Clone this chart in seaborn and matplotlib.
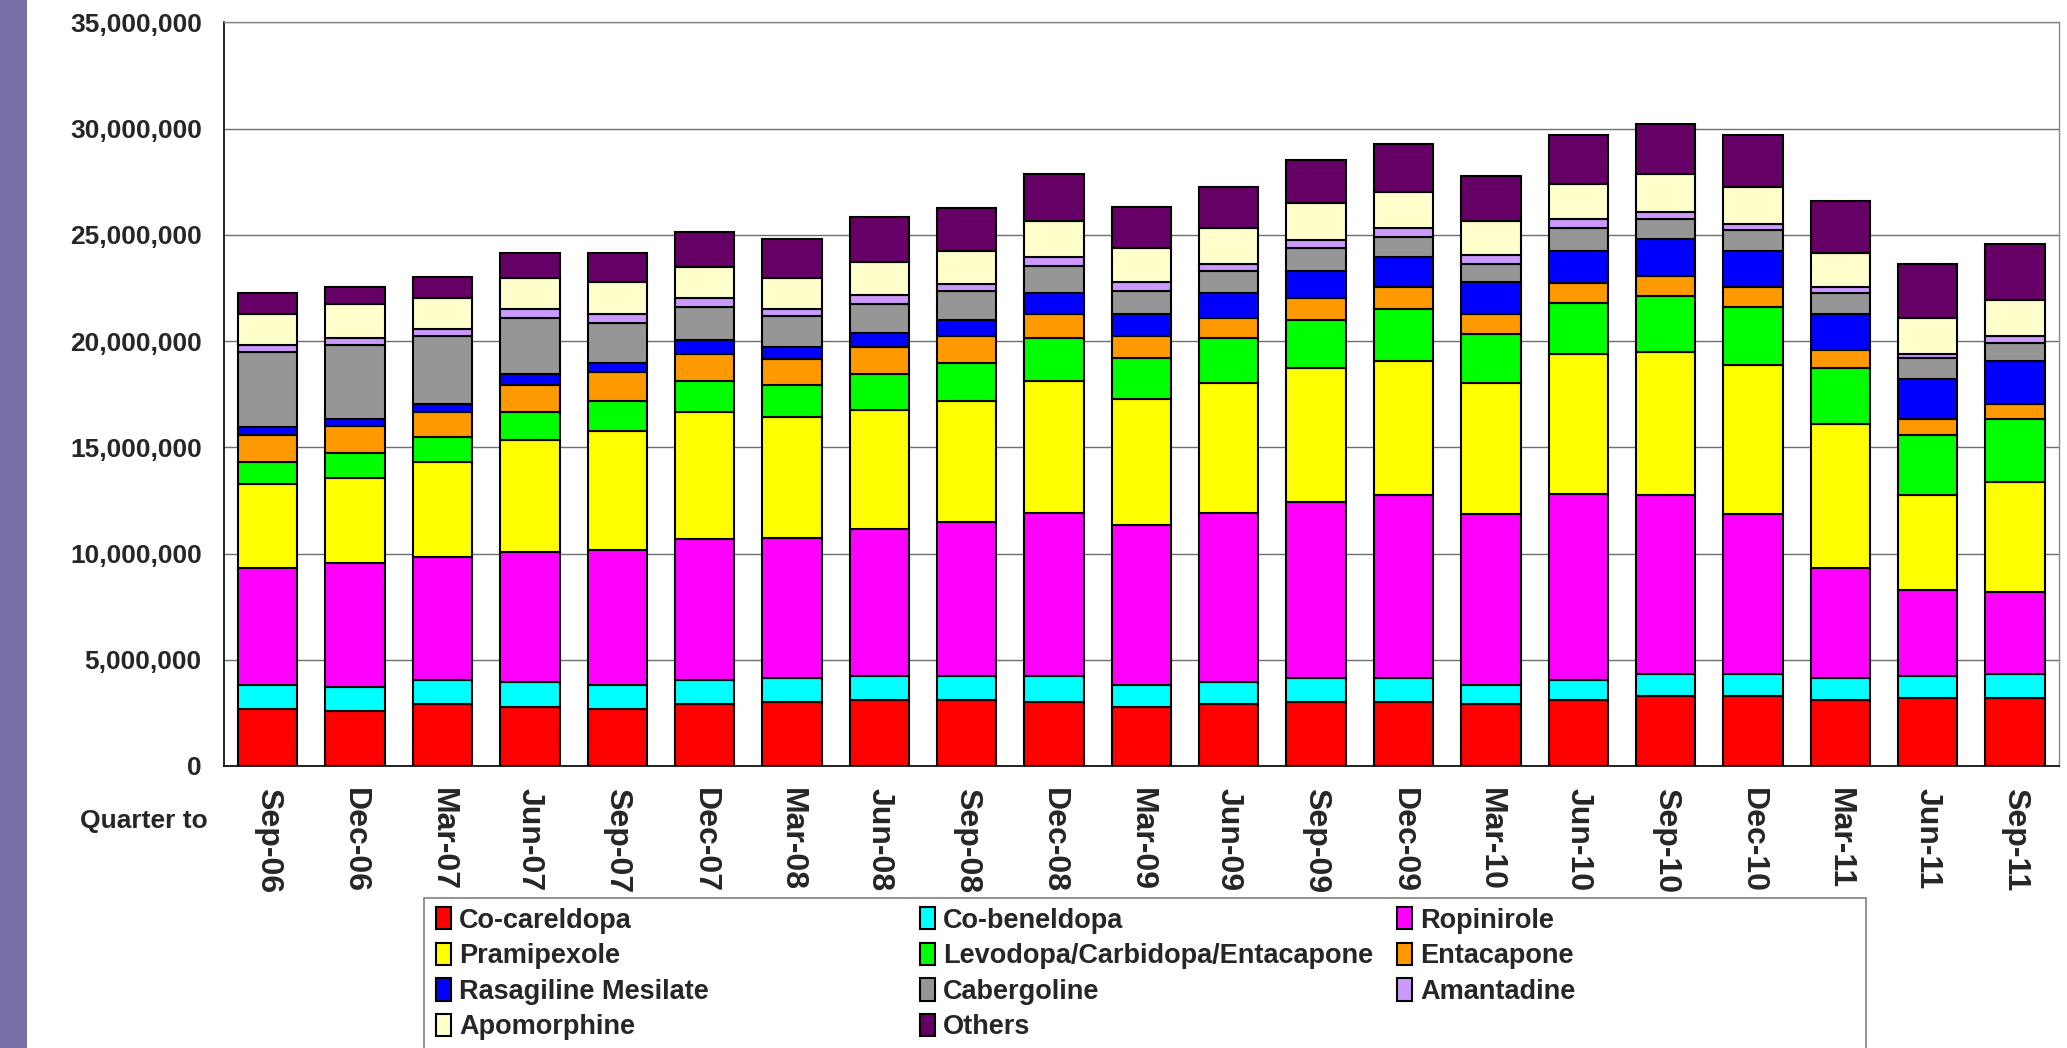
import numpy as np
import pandas as pd
import seaborn as sns
import matplotlib.pyplot as plt
from matplotlib.patches import Patch, Rectangle
from matplotlib.ticker import FuncFormatter, MultipleLocator

quarters = ['Sep-06', 'Dec-06', 'Mar-07', 'Jun-07', 'Sep-07', 'Dec-07', 'Mar-08',
            'Jun-08', 'Sep-08', 'Dec-08', 'Mar-09', 'Jun-09', 'Sep-09', 'Dec-09',
            'Mar-10', 'Jun-10', 'Sep-10', 'Dec-10', 'Mar-11', 'Jun-11', 'Sep-11']

# NIC per quarter, in millions of pounds
co_careldopa = [2.66, 2.57, 2.90, 2.76, 2.66, 2.90, 2.99, 3.09, 3.09, 2.99, 2.78,
                2.90, 2.99, 2.99, 2.90, 3.09, 3.30, 3.30, 3.09, 3.20, 3.20]
co_beneldopa = [1.15, 1.15, 1.14, 1.17, 1.17, 1.14, 1.15, 1.16, 1.16, 1.26, 1.05,
                1.03, 1.17, 1.17, 0.93, 0.95, 1.05, 1.05, 1.05, 1.05, 1.15]
ropinirole = [5.52, 5.82, 5.82, 6.14, 6.36, 6.64, 6.57, 6.90, 7.23, 7.65, 7.53,
              7.97, 8.25, 8.58, 8.04, 8.77, 8.39, 7.52, 5.19, 4.02, 3.83]
pramipexole = [3.92, 4.02, 4.45, 5.29, 5.59, 5.96, 5.72, 5.61, 5.70, 6.22, 5.91,
               6.12, 6.34, 6.31, 6.15, 6.57, 6.73, 6.99, 6.78, 4.47, 5.19]
levodopa_combo = [1.06, 1.17, 1.16, 1.31, 1.40, 1.48, 1.48, 1.68, 1.78, 2.01, 1.92,
                  2.11, 2.22, 2.45, 2.32, 2.43, 2.67, 2.74, 2.64, 2.85, 2.95]
entacapone = [1.26, 1.28, 1.17, 1.26, 1.36, 1.26, 1.26, 1.27, 1.26, 1.16, 1.03,
              0.95, 1.05, 1.06, 0.95, 0.93, 0.93, 0.96, 0.84, 0.75, 0.74]
rasagiline = [0.37, 0.33, 0.42, 0.51, 0.44, 0.65, 0.54, 0.65, 0.77, 0.96, 1.07,
              1.17, 1.29, 1.38, 1.48, 1.50, 1.73, 1.68, 1.70, 1.89, 2.01]
cabergoline = [3.55, 3.46, 3.18, 2.64, 1.89, 1.59, 1.49, 1.38, 1.36, 1.27, 1.06,
               1.06, 1.05, 0.95, 0.86, 1.08, 0.96, 0.98, 0.96, 0.96, 0.85]
amantadine = [0.31, 0.35, 0.33, 0.42, 0.42, 0.40, 0.31, 0.42, 0.32, 0.42, 0.42,
              0.32, 0.42, 0.43, 0.40, 0.42, 0.30, 0.31, 0.31, 0.21, 0.32]
apomorphine = [1.49, 1.59, 1.45, 1.48, 1.48, 1.47, 1.47, 1.57, 1.57, 1.70, 1.59,
               1.69, 1.70, 1.70, 1.61, 1.66, 1.80, 1.70, 1.59, 1.68, 1.69]
others = [0.96, 0.82, 0.98, 1.19, 1.40, 1.64, 1.82, 2.12, 2.03, 2.22, 1.94,
          1.91, 2.04, 2.25, 2.13, 2.29, 2.36, 2.46, 2.45, 2.55, 2.66]

series_names = ['Co-careldopa', 'Co-beneldopa', 'Ropinirole', 'Pramipexole',
                'Levodopa/Carbidopa/Entacapone', 'Entacapone', 'Rasagiline Mesilate',
                'Cabergoline', 'Amantadine', 'Apomorphine', 'Others']
series_values = [co_careldopa, co_beneldopa, ropinirole, pramipexole, levodopa_combo,
                 entacapone, rasagiline, cabergoline, amantadine, apomorphine, others]
colors = ['#FF0000', '#00FFFF', '#FF00FF', '#FFFF00', '#00FF00', '#FF9900',
          '#0000FF', '#969696', '#CC99FF', '#FFFFCC', '#660066']

sns.set_style('white')
plt.rcParams['font.family'] = ['Liberation Sans', 'DejaVu Sans']
narrow = ['Liberation Sans Narrow', 'Liberation Sans', 'DejaVu Sans']

fig = plt.figure(figsize=(20.67, 10.48), dpi=100)
fig.patches.append(Rectangle((0, 0), 27 / 2067, 1, transform=fig.transFigure,
                             facecolor='#7A6EA6', edgecolor='none', zorder=0))
ax = fig.add_axes([0.1084, 0.2691, 0.8876, 0.7095])

df = pd.DataFrame({name: np.array(vals) * 1e6 for name, vals in zip(series_names, series_values)})
df['quarter'] = quarters
bottom = np.zeros(len(quarters))
for name, color in zip(series_names, colors):
    sns.barplot(x=df['quarter'], y=df[name], bottom=bottom, color=color, width=0.68,
                edgecolor='black', linewidth=1.5, saturation=1, ax=ax, zorder=3)
    bottom = bottom + df[name].values

ax.set_ylim(0, 35e6)
ax.set_xlim(-0.5, len(quarters) - 0.5)
ax.yaxis.set_major_locator(MultipleLocator(5e6))
ax.yaxis.set_major_formatter(FuncFormatter(lambda v, p: f'{v:,.0f}'))
ax.grid(axis='y', color='#6f6f6f', linewidth=1.0, zorder=0)
ax.set_axisbelow(True)

for side in ['top', 'right']:
    ax.spines[side].set_color('#8a8a8a')
    ax.spines[side].set_linewidth(1.0)
for side in ['left', 'bottom']:
    ax.spines[side].set_color('black')
    ax.spines[side].set_linewidth(1.2)

# category ticks sit between the bars, crossing the axis
ax.set_xticks(np.arange(len(quarters) + 1) - 0.5, minor=True)
ax.tick_params(axis='x', which='minor', direction='inout', length=12, width=1.0, color='#555555')
ax.tick_params(axis='x', which='major', length=0, pad=16)
ax.tick_params(axis='y', direction='inout', length=12, width=1.0, color='#555555', pad=10)
ax.set_xticks(range(len(quarters)))
ax.set_xticklabels(quarters, rotation=-90, fontsize=23, fontweight='bold', va='top', ha='center')
for lab in ax.get_yticklabels():
    lab.set_fontsize(19)
    lab.set_fontweight('bold')

ax.set_xlabel('')
ax.set_ylabel('NIC (£)', fontsize=17, fontweight='bold', family=narrow)
ax.yaxis.set_label_coords(-0.108, 0.48)

fig.text(208 / 2067, 1 - 821 / 1048, 'Quarter to', ha='right', va='center',
         fontsize=19, fontweight='bold', family=narrow)

# legend: frame plus three columns, filled row by row like the original
fig.patches.append(Rectangle((424 / 2067, -0.02), 1442 / 2067, 0.02 + 1 - 898 / 1048,
                             transform=fig.transFigure, facecolor='white',
                             edgecolor='#808080', linewidth=1.2, zorder=1))
handles = [Patch(facecolor=c, edgecolor='black', linewidth=1.5) for c in colors]
col_x = [436, 920, 1397]
for j, x0 in enumerate(col_x):
    idx = list(range(j, len(series_names), 3))
    leg = fig.legend([handles[i] for i in idx], [series_names[i] for i in idx],
                     loc='upper left', bbox_to_anchor=(x0 / 2067, 1 - 907 / 1048),
                     frameon=False, ncol=1, borderpad=0, borderaxespad=0,
                     handlelength=0.55, handleheight=0.9, handletextpad=0.3,
                     labelspacing=0.33, prop={'family': narrow, 'weight': 'bold', 'size': 19.5})
    leg.set_zorder(2)

fig.savefig('out.png', dpi=100, facecolor='white')
